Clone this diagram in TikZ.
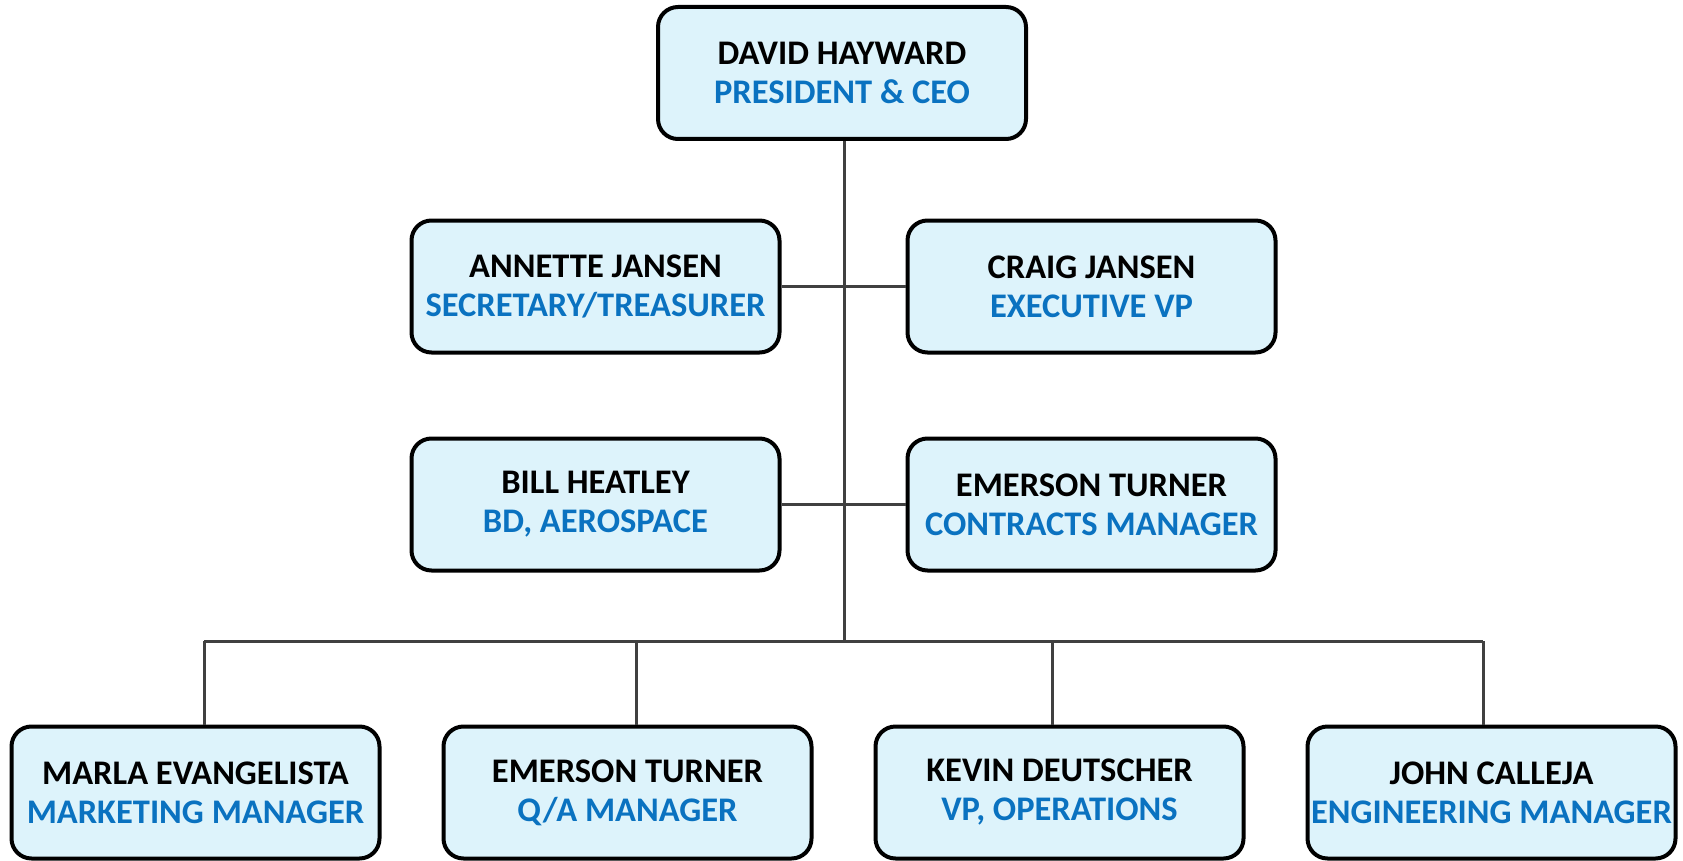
\documentclass[tikz,border=0pt]{standalone}
\usepackage{fontspec}
\setmainfont{Carlito}
\definecolor{boxfill}{HTML}{DDF3FB}
\definecolor{titleblue}{HTML}{0A72C0}
\definecolor{linegray}{HTML}{404040}
\begin{document}
\begin{tikzpicture}[x=1pt,y=-1pt,
  person/.style={draw=black, line width=4pt, fill=boxfill, rounded corners=20pt,
    minimum width=368pt, minimum height=132pt, inner sep=0pt, align=center,
    font=\fontsize{34.5}{39}\selectfont\bfseries},
  link/.style={draw=linegray, line width=3pt}]
\useasboundingbox (0,0) rectangle (1683,861);
\newcommand{\who}[2]{#1\\\textcolor{titleblue}{#2}}
\node[person] (ceo) at (842,73) {\who{DAVID HAYWARD}{PRESIDENT \& CEO}};
\node[person] (annette) at (595.5,286.5) {\who{ANNETTE JANSEN}{SECRETARY/TREASURER}};
\node[person] (craig) at (1091.5,286.5) {\who{CRAIG JANSEN}{EXECUTIVE VP}};
\node[person] (bill) at (595.5,504.5) {\who{BILL HEATLEY}{BD, AEROSPACE}};
\node[person] (emerson) at (1091.5,504.5) {\who{EMERSON TURNER}{CONTRACTS MANAGER}};
\node[person] (marla) at (195.5,792.5) {\who{MARLA EVANGELISTA}{MARKETING MANAGER}};
\node[person] (emersonqa) at (627.5,792.5) {\who{EMERSON TURNER}{Q/A MANAGER}};
\node[person] (kevin) at (1059.5,792.5) {\who{KEVIN DEUTSCHER}{VP, OPERATIONS}};
\node[person] (john) at (1491.5,792.5) {\raisebox{-4pt}{\parbox{366pt}{\centering\who{JOHN CALLEJA}{ENGINEERING MANAGER}}}};
\coordinate (trunk) at (844,641);
\coordinate (d1) at (204,641);
\coordinate (d2) at (636,641);
\coordinate (d3) at (1052,641);
\coordinate (d4) at (1483,641);
\draw[link] (ceo.south -| trunk) -- (trunk);
\draw[link] (annette.east) -- (craig.west);
\draw[link] (bill.east) -- (emerson.west);
\draw[link] (d1) -- (d4);
\draw[link] (d1) -- (marla.north -| d1);
\draw[link] (d2) -- (emersonqa.north -| d2);
\draw[link] (d3) -- (kevin.north -| d3);
\draw[link] (d4) -- (john.north -| d4);
\end{tikzpicture}
\end{document}
